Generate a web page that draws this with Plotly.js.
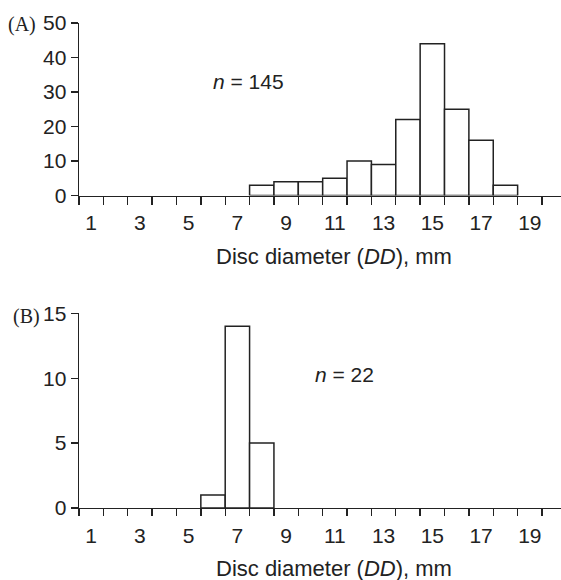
<!DOCTYPE html>
<html>
<head>
<meta charset="utf-8">
<script src="https://cdn.plot.ly/plotly-3.0.1.min.js"></script>
<style>html,body{margin:0;padding:0;background:#fff;}#chart{width:561px;height:580px;}</style>
</head>
<body>
<div id="chart"></div>
<script>
// Panel A: disc diameter bins (mm) and counts
const diametersA = [8, 9, 10, 11, 12, 13, 14, 15, 16, 17, 18];
const countsA    = [3, 4, 4, 5, 10, 9, 22, 44, 25, 16, 3];
// Panel B
const diametersB = [6, 7, 8];
const countsB    = [1, 14, 5];
// Axis ticks
const binEdges = [0.5, 1.5, 2.5, 3.5, 4.5, 5.5, 6.5, 7.5, 8.5, 9.5, 10.5, 11.5, 12.5, 13.5, 14.5, 15.5, 16.5, 17.5, 18.5, 19.5];
const tickLabels = [1, 3, 5, 7, 9, 11, 13, 15, 17, 19];
const yTicksA = [0, 10, 20, 30, 40, 50];
const yTicksB = [0, 5, 10, 15];
const nA = 145, nB = 22;
const xTitle = 'Disc diameter (<i>DD</i>), mm';

const INK = '#222';
const FONT = 'Liberation Sans, Arial, Helvetica, sans-serif';
const FS = 21;
const barStyle = {color: '#ffffff', line: {color: INK, width: 1.5}};

const traces = [
  {type: 'bar', x: diametersA, y: countsA, width: 1, marker: barStyle, xaxis: 'x', yaxis: 'y', hoverinfo: 'skip', showlegend: false},
  {type: 'bar', x: diametersB, y: countsB, width: 1, marker: barStyle, xaxis: 'x2', yaxis: 'y2', hoverinfo: 'skip', showlegend: false},
  {type: 'scatter', x: [], y: [], xaxis: 'x3', yaxis: 'y', showlegend: false, hoverinfo: 'skip'},
  {type: 'scatter', x: [], y: [], xaxis: 'x4', yaxis: 'y2', showlegend: false, hoverinfo: 'skip'}
];

const xr = [0.5, 20.28];
const labelAxis = (anchor) => ({
  domain: [0, 1], anchor: anchor, range: xr, fixedrange: true,
  tickmode: 'array', tickvals: tickLabels, ticktext: tickLabels.map(String),
  ticks: 'outside', ticklen: 8, tickcolor: 'rgba(0,0,0,0)',
  showline: true, linecolor: INK, linewidth: 1.4,
  showgrid: false, zeroline: false,
  tickfont: {family: FONT, size: FS, color: INK}
});
const tickAxis = (over, anchor, len) => ({
  overlaying: over, anchor: anchor, range: xr, fixedrange: true,
  tickmode: 'array', tickvals: binEdges, showticklabels: false,
  ticks: 'outside', ticklen: len, tickwidth: 1.4, tickcolor: INK,
  showline: false, showgrid: false, zeroline: false
});
const yAxis = (domain, range, vals, anchor) => ({
  domain: domain, anchor: anchor, range: range, fixedrange: true,
  tickmode: 'array', tickvals: vals, ticks: 'outside', ticklen: 7, tickwidth: 1.4, tickcolor: INK,
  showline: true, linecolor: INK, linewidth: 1.4, showgrid: false, zeroline: false,
  tickfont: {family: FONT, size: FS, color: INK}
});

const layout = {
  width: 561, height: 580,
  margin: {l: 79, r: 0, t: 23, b: 72},
  paper_bgcolor: '#fff', plot_bgcolor: 'rgba(0,0,0,0)',
  font: {family: FONT, color: INK},
  bargap: 0,
  xaxis: labelAxis('y'),
  xaxis2: labelAxis('y2'),
  xaxis3: tickAxis('x', 'y', 8),
  xaxis4: tickAxis('x2', 'y2', 7),
  yaxis: yAxis([0.6443, 1], [0, 50], yTicksA, 'x'),
  yaxis2: yAxis([0, 0.4014], [0, 15], yTicksB, 'x2'),
  annotations: [
    {text: '(A)', xref: 'x domain', yref: 'y domain', x: 0, y: 1, xanchor: 'left', yanchor: 'middle', xshift: -73, yshift: -1, showarrow: false,
     font: {family: 'Liberation Serif, Times New Roman, serif', size: 20, color: INK}},
    {text: '(B)', xref: 'x2 domain', yref: 'y2 domain', x: 0, y: 1, xanchor: 'left', yanchor: 'middle', xshift: -68, yshift: -3, showarrow: false,
     font: {family: 'Liberation Serif, Times New Roman, serif', size: 20, color: INK}},
    {text: '<i>n</i> = ' + nA, xref: 'x', yref: 'y', x: 5.92, y: 33, xanchor: 'left', yanchor: 'middle', showarrow: false,
     font: {family: FONT, size: FS, color: INK}},
    {text: '<i>n</i> = ' + nB, xref: 'x2', yref: 'y2', x: 10.1, y: 10.3, xanchor: 'left', yanchor: 'middle', showarrow: false,
     font: {family: FONT, size: FS, color: INK}},
    {text: xTitle, xref: 'x domain', yref: 'y domain', x: 0.529, y: 0, xanchor: 'center', yanchor: 'middle', yshift: -61, showarrow: false,
     font: {family: FONT, size: 22, color: INK}},
    {text: xTitle, xref: 'x2 domain', yref: 'y2 domain', x: 0.529, y: 0, xanchor: 'center', yanchor: 'middle', yshift: -60, showarrow: false,
     font: {family: FONT, size: 22, color: INK}}
  ]
};

Plotly.newPlot('chart', traces, layout, {displayModeBar: false, staticPlot: true});
</script>
</body>
</html>
